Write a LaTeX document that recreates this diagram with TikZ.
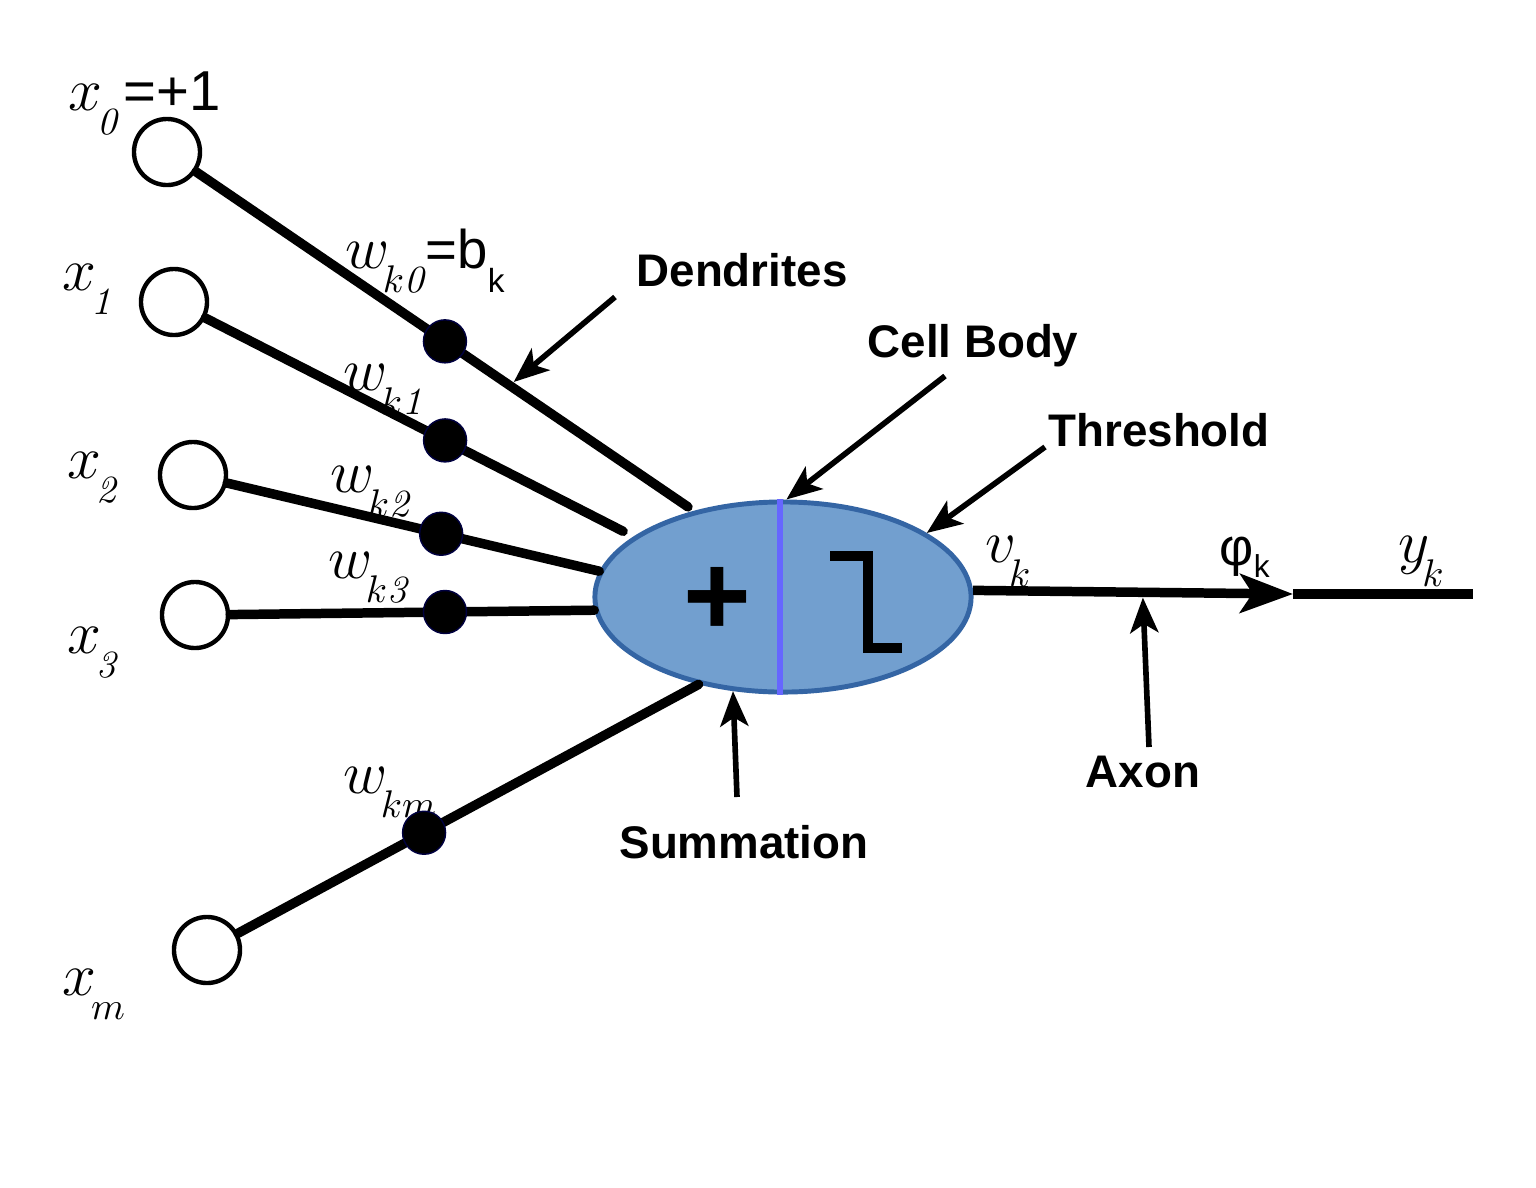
\documentclass[tikz,border=0pt]{standalone}
\usepackage[no-math]{fontspec}
\setmainfont{Liberation Sans}
\usetikzlibrary{shapes.geometric,arrows.meta}
\definecolor{bodyfill}{RGB}{114,159,207}
\definecolor{bodyline}{RGB}{52,101,164}
\definecolor{divline}{RGB}{102,102,255}
\DeclareMathSizes{16}{16}{10.5}{8}
\newcommand{\dsub}[2]{#1_{\kern-1.5pt\raisebox{-4.5pt}{$\scriptstyle #2$}}}
\tikzset{
	input/.style={circle, draw, line width=1.25pt, fill=white, minimum size=0.66cm, inner sep=0},
	weight/.style={circle, fill=black, draw=blue!25!black, line width=0.4pt, minimum size=0.43cm, inner sep=0},
	dendrite/.style={line width=2.7pt, line cap=round},
	note/.style={line width=1.6pt, -{Stealth[length=10pt,width=8pt,inset=2.5pt]}},
	lbl/.style={font=\fontsize{13}{15}\selectfont\bfseries, inner sep=0, anchor=base},
	mlbl/.style={font=\fontsize{16}{19}\selectfont, inner sep=0, anchor=base west}
}

\begin{document}
\begin{tikzpicture}[x=0.01cm, y=-0.01cm]
	\useasboundingbox (0,0) rectangle (1536,1187);

	% input and weight labels
	\node[mlbl] (lx0) at (68,110) {$\dsub{x}{\mathit{0}}$=+1};
	\node[mlbl] (lx1) at (62,290) {$\dsub{x}{\mathit{1}}$};
	\node[mlbl] (lx2) at (67,478) {$\dsub{x}{\mathit{2}}$};
	\node[mlbl] (lx3) at (67,653) {$\dsub{x}{\mathit{3}}$};
	\node[mlbl] (lxm) at (62,995) {$\dsub{x}{m}$};
	\node[mlbl] (lw0) at (345,268) {$\dsub{w}{k\mathit{0}}$\kern-1.5pt\fontsize{15.5}{18}\selectfont=b\raisebox{-7pt}{\fontsize{9.5}{10}\selectfont k}};
	\node[mlbl] (lw1) at (343,390) {$\dsub{w}{k\mathit{1}}$};
	\node[mlbl] (lw2) at (330,492) {$\dsub{w}{k\mathit{2}}$};
	\node[mlbl] (lw3) at (328,578) {$\dsub{w}{k\mathit{3}}$};
	\node[mlbl] (lwm) at (343,793) {$\dsub{w}{km}$};

	% inputs
	\node[input] (x0) at (167,152) {};
	\node[input] (x1) at (174,302) {};
	\node[input] (x2) at (193,475) {};
	\node[input] (x3) at (195,615) {};
	\node[input] (xm) at (207,950) {};

	% cell body
	\node[ellipse, draw=bodyline, fill=bodyfill, line width=1.4pt, minimum width=3.76cm, minimum height=1.9cm, inner sep=0] (body) at (783,597) {};
	\draw[divline, line width=1.5pt] ([xshift=-0.03cm]body.north) -- ([xshift=-0.03cm]body.south);
	\node[font=\fontsize{33}{33}\selectfont\bfseries, inner sep=0] (plus) at (717,601) {+};
	\draw[line width=3.1pt] (830,556) -- (868,556) -- (868,648) -- (902,648);

	% dendrites
	\draw[dendrite, shorten >=2pt] (x0) -- node[weight, pos=0.5] (w0) {} coordinate[pos=0.63] (d0) (body.136);
	\draw[dendrite, shorten >=3.3pt] (x1) -- node[weight, pos=0.56] (w1) {} (body.158);
	\draw[dendrite] (x2) -- node[weight, pos=0.575] (w2) {} (body.172);
	\draw[dendrite] (x3) -- node[weight, pos=0.59] (w3) {} (body.184);
	\draw[dendrite] (xm) -- node[weight, pos=0.404] (wm) {} (body.226);

	% axon
	\coordinate (tip) at (1293,594);
	\coordinate (yout) at (1473,594);
	\draw[line width=2.7pt, -{Stealth[length=15pt,width=11pt,inset=3.5pt]}] (body.2) -- coordinate[pos=0.53] (a0) (tip);
	\draw[line width=2.7pt] (tip) -- (yout);
	\node[mlbl] (lv) at (985,562) {$\dsub{v}{k}$};
	\node[mlbl] (lphi) at (1219,565) {\fontsize{15}{18}\selectfont φ\raisebox{-3.5pt}{\fontsize{9}{10}\selectfont k}};
	\node[mlbl] (ly) at (1398,562) {$\dsub{y}{k}$};

	% notes
	\node[lbl] (tdend) at (742,286) {Dendrites};
	\node[lbl] (tcell) at (973,357) {Cell Body};
	\node[lbl] (tthr) at (1159,446) {Threshold};
	\node[lbl] (tsum) at (744,858) {Summation};
	\node[lbl] (taxon) at (1143,787) {Axon};
	\coordinate (nd) at (615,297);
	\coordinate (nc) at (945,376);
	\coordinate (nt) at (1045,447);
	\coordinate (ns) at (737,797);
	\coordinate (na) at (1149,747);
	\draw[note, shorten >=1.5pt] (nd) -- (d0);
	\draw[note] (nc) -- (body.88);
	\draw[note] (nt) -- (body.24);
	\draw[note] (ns) -- (body.242);
	\draw[note, shorten >=1.5pt] (na) -- (a0);
\end{tikzpicture}
\end{document}
